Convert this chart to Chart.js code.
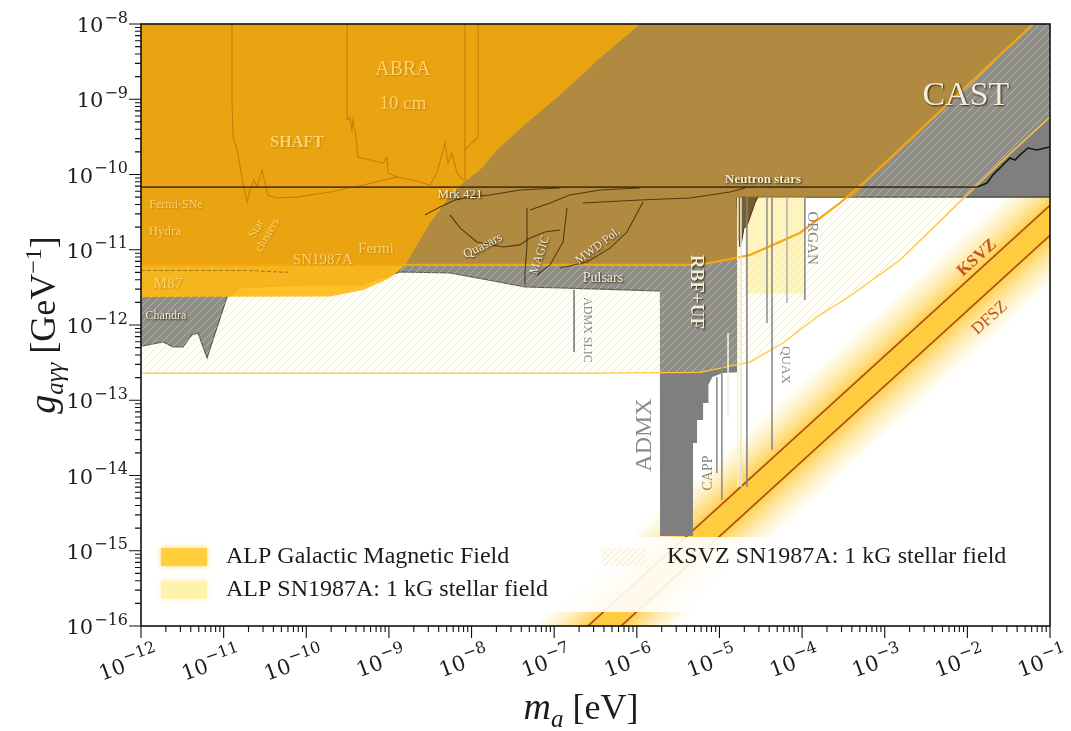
<!DOCTYPE html>
<html>
<head>
<meta charset="utf-8">
<script src="https://cdn.jsdelivr.net/npm/chart.js@4.4.1/dist/chart.umd.min.js"></script>
<style>
  html, body { margin: 0; padding: 0; background: #ffffff; }
  canvas { display: block; }
</style>
</head>
<body>
<canvas id="c" width="1071" height="731"></canvas>
<script>
// Axion-photon coupling g_aγγ [GeV^-1] versus axion mass m_a [eV].

// ---------- tick exponents ----------
const xTickExponents = [-12, -11, -10, -9, -8, -7, -6, -5, -4, -3, -2, -1];
const yTickExponents = [-16, -15, -14, -13, -12, -11, -10, -9, -8];

// ---------- grey: haloscope / helioscope / astrophysical limits (lower edge) ----------
const limitsMass = [1e-12, 1.06e-12, 1.85e-12, 2.44e-12, 3.22e-12, 4.14e-12, 4.9e-12, 6.3e-12, 1.1e-11, 1.58e-11,
  8.4e-11, 4.47e-10, 1.36e-9, 5.48e-9, 2.21e-8, 4.43e-8, 1.17e-7, 3.58e-7, 1.66e-6, 1.9e-6,
  1.91e-6, 4.78e-6, 4.79e-6, 5.35e-6, 5.36e-6, 6.33e-6, 6.34e-6, 7.34e-6, 7.35e-6, 8.2e-6,
  1.09e-5, 1.67e-5, 1.68e-5, 0.1];
const limitsG = [5.3e-13, 5.26e-13, 5.94e-13, 5.1e-13, 5.1e-13, 7.36e-13, 7.83e-13, 3.64e-13, 2.35e-12, 3.1e-12,
  3.4e-12, 3.4e-12, 5.06e-12, 4.9e-12, 3.7e-12, 3.2e-12, 3.1e-12, 3.0e-12, 2.83e-12, 2.83e-12,
  1.57e-15, 1.57e-15, 2.7e-14, 2.7e-14, 5.47e-14, 5.47e-14, 9.2e-14, 9.2e-14, 1.6e-13, 2.04e-13,
  2.3e-13, 2.35e-13, 5e-11, 5e-11];

// ---------- ALP SN1987A 1 kG stellar field (lower edge of the hatched region) ----------
const snMass = [1e-12, 3.58e-7, 5.8e-6, 2.34e-5, 5.87e-5, 1.51e-4, 3.8e-4, 1.53e-3, 6.15e-3, 2.48e-2, 0.1];
const snG    = [2.3e-13, 2.3e-13, 2.35e-13, 3.22e-13, 5.77e-13, 1.28e-12, 2.43e-12, 7.3e-12, 3.2e-11, 1.42e-10, 5.8e-10];

// ---------- ALP galactic magnetic field curve ----------
const gmfMass = [1e-12, 5.8e-6, 2.34e-5, 9.4e-5, 2.87e-4, 6.1e-4, 1.53e-3, 6.15e-3, 2.48e-2, 0.1];
const gmfG    = [6.3e-12, 6.3e-12, 8.5e-12, 1.67e-11, 4.18e-11, 8.45e-11, 2.18e-10, 9.2e-10, 3.87e-9, 1.6e-8];

// ---------- tinted part of the limits lying above that curve ----------
const tintMass = [1e-12, 5.8e-6, 1.67e-5, 1.68e-5, 4.49e-4, 6.1e-4, 1.53e-3, 6.15e-3, 2.48e-2, 0.1];
const tintG    = [6.3e-12, 6.3e-12, 7.3e-12, 5e-11, 5e-11, 8.45e-11, 2.18e-10, 9.2e-10, 3.87e-9, 1.6e-8];

// ---------- low-mass ALP region (amber) ----------
const amberMass = [1e-12, 1.94e-10, 4.86e-10, 1.03e-9, 1.57e-9, 2.38e-9, 3.14e-9, 5.05e-9, 7.87e-9, 1.26e-8,
  2.03e-8, 5.1e-8, 1.17e-7, 3.58e-7, 1.09e-6, 1.42e-6];
const amberG = [2.35e-12, 2.4e-12, 2.92e-12, 4.2e-12, 6.27e-12, 1.35e-11, 2.26e-11, 4.58e-11, 7.7e-11, 1.15e-10,
  2.12e-10, 5.3e-10, 1.14e-9, 3.53e-9, 1e-8, 1.36e-8];

// ---------- pale haloscope strip ----------
const stripMass = [2.04e-5, 1.11e-4];
const stripTop = [5e-11, 5e-11];
const stripBottom = 2.6e-12;

// ---------- QCD axion lines ----------
const ksvzMass = [1e-8, 0.1];
const ksvzG    = [3.9e-18, 3.9e-11];
const dfszMass = [1e-8, 0.1];
const dfszG    = [1.55e-18, 1.55e-11];

// ---------- CAST ----------
const castMass = [1e-12, 1.31e-2, 1.73e-2, 2.04e-2, 3.28e-2, 3.77e-2, 4.34e-2, 5.41e-2, 6.95e-2, 8.69e-2, 0.1];
const castG    = [6.8e-11, 6.8e-11, 7.7e-11, 9.9e-11, 1.66e-10, 1.56e-10, 1.82e-10, 2.25e-10, 2.12e-10, 2.25e-10, 2.32e-10];

// ---------- neutron star spikes ----------
const nsMass = [1.63e-5, 1.67e-5, 1.77e-5, 1.87e-5, 1.98e-5, 2.15e-5, 2.28e-5, 2.47e-5, 2.69e-5, 2.92e-5];
const nsG    = [5e-11, 1.72e-11, 1.09e-11, 1.35e-11, 1.95e-11, 2.07e-11, 2.49e-11, 3.18e-11, 4.18e-11, 5e-11];

// ---------- SHAFT / ABRA outlines ----------
const shaftMass = [1.26e-11, 1.26e-11, 1.30e-11, 1.49e-11, 1.58e-11, 1.71e-11, 1.92e-11, 2.08e-11, 2.33e-11, 2.53e-11,
  2.91e-11, 3.17e-11, 3.44e-11, 4.42e-11, 7.73e-11, 1.94e-10, 4.86e-10, 1.25e-9];
const shaftG = [1e-8, 9.8e-10, 3.15e-10, 1.93e-10, 1.26e-10, 7.7e-11, 4.3e-11, 6.2e-11, 8.5e-11, 6.8e-11,
  1.15e-10, 7.7e-11, 5.3e-11, 4.9e-11, 5.0e-11, 5.85e-11, 7.25e-11, 9.3e-11];
const abraMass = [3.11e-10, 3.11e-10, 3.38e-10, 3.57e-10, 3.67e-10, 4.0e-10, 4.23e-10, 5.9e-10, 8.5e-10, 9.5e-10,
  9.75e-10, 1.25e-9, 1.96e-9, 2.59e-9, 3.14e-9, 3.82e-9, 4.77e-9, 5.19e-9, 5.8e-9, 6.67e-9,
  7.88e-9, 8.33e-9, 8.33e-9];
const abraG = [1e-8, 5.3e-10, 5.8e-10, 3.9e-10, 5.3e-10, 3.15e-10, 1.71e-10, 1.56e-10, 1.42e-10, 1.71e-10,
  1.05e-10, 9.3e-11, 8.45e-11, 7.7e-11, 7.25e-11, 1.05e-10, 2.62e-10, 1.42e-10, 1.93e-10, 1.05e-10,
  8.45e-11, 8.45e-11, 1e-8];
const abraOuterMass = [1.2e-8, 1.2e-8, 8.33e-9];
const abraOuterG    = [1e-8, 3.15e-10, 2.12e-10];

// ---------- astrophysical outlines ----------
const fermiSNeMass = [1e-12, 4.86e-10, 1.25e-9];
const fermiSNeG    = [3.93e-11, 3.93e-11, 6.22e-11];
const hydraMass = [1e-12, 2.78e-10, 4.86e-10, 1.25e-9];
const hydraG    = [2.72e-11, 2.72e-11, 3.08e-11, 4.87e-11];
const m87Mass = [1e-12, 2.0e-11, 6.0e-11];
const m87G    = [5.3e-12, 5.3e-12, 5.0e-12];
const mrk421Mass = [2.73e-9, 4.15e-9, 6.3e-9, 9.58e-9, 1.67e-8, 3.86e-8, 1.18e-7];
const mrk421G    = [2.9e-11, 3.7e-11, 4.58e-11, 5.0e-11, 5.34e-11, 6.22e-11, 6.62e-11];
const upperMass = [5.1e-8, 8.9e-8, 1.55e-7, 3.58e-7, 1.09e-6];
const upperG    = [3.38e-11, 4.18e-11, 5.34e-11, 6.22e-11, 6.62e-11];
const shelfMass = [2.23e-7, 1.09e-6, 4.4e-6, 1.34e-5, 2.04e-5];
const shelfG    = [4.18e-11, 4.58e-11, 4.87e-11, 5.85e-11, 6.62e-11];
const quasarMass = [5.48e-9, 7.25e-9, 1.16e-8, 2.4e-8, 3.86e-8, 5.1e-8, 7.74e-8, 1.18e-7];
const quasarG    = [2.9e-11, 1.95e-11, 1.27e-11, 1.09e-11, 1.16e-11, 1.43e-11, 1.72e-11, 1.83e-11];
const magicLeftMass = [4.69e-8, 4.69e-8, 4.43e-8, 4.43e-8];
const magicLeftG    = [3.59e-11, 1.16e-11, 5.06e-12, 3.4e-12];
const magicRightMass = [1.43e-7, 1.28e-7, 8.9e-8, 6.19e-8];
const magicRightG    = [3.59e-11, 1.27e-11, 6.27e-12, 4.62e-12];
const mwdMass = [1.19e-6, 7.6e-7, 4.73e-7, 2.49e-7, 1.18e-7];
const mwdG    = [4.31e-11, 1.72e-11, 1.05e-11, 6.87e-12, 5.72e-12];

// ---------- narrow haloscope exclusions: [mass, g top, g bottom] ----------
const haloscopeLines = [
  [1.74e-7, 2.92e-12, 4.37e-13],
  [9.3e-6, 2.04e-13, 1.08e-14],
  [1.07e-5, 3.76e-13, 4.72e-15],
  [1.27e-5, 7.83e-13, 5.99e-14],
  [1.67e-5, 5e-11, 7.03e-15],
  [1.82e-5, 5e-11, 7.03e-15],
  [2.15e-5, 5e-11, 7.03e-15],
  [3.76e-5, 5e-11, 1.06e-12],
  [4.33e-5, 5e-11, 2.18e-14],
  [6.56e-5, 5e-11, 1.96e-12],
  [1.08e-4, 5e-11, 2.15e-12]
];
const haloscopeColors = ['#7a7a7a', '#8e8e8e', '#8e8e8e', '#f4efe0', '#f7f1dc', '#ece4c8', '#858585',
  '#959595', '#8a8a8a', '#b4b4b4', '#8a8a8a'];

// ---------- text annotations (anchor in data units) ----------
const notes = [
  { t: ['CAST'], m: 9.6e-3, g: 1.1e-9, size: 34, kind: 'cream', rot: 0 },
  { t: ['Neutron stars'], m: 3.37e-5, g: 8.45e-11, size: 13, kind: 'cream', rot: 0, bold: true },
  { t: ['RBF+UF'], m: 5.2e-6, g: 2.75e-12, size: 19, kind: 'cream', rot: 90, bold: true },
  { t: ['Pulsars'], m: 3.89e-7, g: 4.21e-12, size: 14, kind: 'cream', rot: 0 },
  { t: ['MWD Pol.'], m: 3.39e-7, g: 1.12e-11, size: 12, kind: 'cream', rot: -37 },
  { t: ['MAGIC'], m: 6.73e-8, g: 8.51e-12, size: 12, kind: 'cream', rot: -72 },
  { t: ['Quasars'], m: 1.37e-8, g: 1.12e-11, size: 13, kind: 'cream', rot: -27 },
  { t: ['Mrk 421'], m: 7.24e-9, g: 5.34e-11, size: 13, kind: 'cream', rot: 0 },
  { t: ['Chandra'], m: 2.0e-12, g: 1.32e-12, size: 12, kind: 'cream', rot: 0 },
  { t: ['M87'], m: 2.12e-12, g: 3.51e-12, size: 15, kind: 'amber', rot: 0 },
  { t: ['SN1987A'], m: 1.59e-10, g: 7.31e-12, size: 15, kind: 'amber', rot: 0 },
  { t: ['Fermi'], m: 6.98e-10, g: 1.02e-11, size: 15, kind: 'amber', rot: 0 },
  { t: ['Hydra'], m: 1.95e-12, g: 1.77e-11, size: 13, kind: 'amber', rot: 0 },
  { t: ['Fermi-SNe'], m: 2.65e-12, g: 3.93e-11, size: 12, kind: 'amber', rot: 0 },
  { t: ['Star', 'clusters'], m: 2.91e-11, g: 1.72e-11, size: 12, kind: 'amber', rot: -60 },
  { t: ['SHAFT'], m: 7.73e-11, g: 2.62e-10, size: 16, kind: 'amber', rot: 0, bold: true },
  { t: ['ABRA'], m: 1.48e-9, g: 2.45e-9, size: 20, kind: 'amber', rot: 0 },
  { t: ['10 cm'], m: 1.48e-9, g: 8.65e-10, size: 19, kind: 'amber', rot: 0 },
  { t: ['ADMX SLIC'], m: 2.49e-7, g: 8.58e-13, size: 12, kind: 'grey', rot: 90 },
  { t: ['ADMX'], m: 1.26e-6, g: 3.45e-14, size: 24, kind: 'grey', rot: -90 },
  { t: ['CAPP'], m: 7.26e-6, g: 1.08e-14, size: 14, kind: 'grey', rot: -90 },
  { t: ['QUAX'], m: 6.2e-5, g: 2.94e-13, size: 13, kind: 'grey', rot: 90 },
  { t: ['ORGAN'], m: 1.32e-4, g: 1.43e-11, size: 15, kind: 'grey', rot: 90 },
  { t: ['KSVZ'], m: 1.31e-2, g: 7.77e-12, size: 17, kind: 'rust', rot: -42, bold: true },
  { t: ['DFSZ'], m: 1.87e-2, g: 1.24e-12, size: 17, kind: 'rust', rot: -42 }
];

const legendItems = [
  { label: 'ALP Galactic Magnetic Field', swatch: 'gold' },
  { label: 'ALP SN1987A: 1 kG stellar field', swatch: 'pale' },
  { label: 'KSVZ SN1987A: 1 kG stellar field', swatch: 'hatch' }
];

// ---------- drawing helpers ----------
const SERIF = "'Liberation Serif', 'DejaVu Serif', serif";
const TICKFONT = "'DejaVu Serif', serif";
const canvas = document.getElementById('c');
const ctx0 = canvas.getContext('2d');

function hatch(bg, line, step) {
  const p = document.createElement('canvas');
  p.width = step; p.height = step;
  const g = p.getContext('2d');
  g.fillStyle = bg; g.fillRect(0, 0, step, step);
  g.strokeStyle = line; g.lineWidth = 1;
  g.beginPath();
  g.moveTo(0, step); g.lineTo(step, 0);
  g.moveTo(-1, 1); g.lineTo(1, -1);
  g.moveTo(step - 1, step + 1); g.lineTo(step + 1, step - 1);
  g.stroke();
  return ctx0.createPattern(p, 'repeat');
}
const snHatch = hatch('rgba(255,246,190,0.12)', 'rgba(255,214,80,0.52)', 8);
const legendHatch = hatch('rgba(255,250,215,0.3)', 'rgba(255,222,110,0.55)', 6);

function pts(xs, ys) { return xs.map((x, i) => ({ x: x, y: ys[i] })); }
function series(label, xs, ys, extra) {
  return Object.assign({
    label: label, data: pts(xs, ys), pointRadius: 0, pointHoverRadius: 0, pointHitRadius: 0,
    borderWidth: 0, borderColor: 'rgba(0,0,0,0)', backgroundColor: 'rgba(0,0,0,0)',
    fill: false, tension: 0
  }, extra || {});
}

const datasets = [];
function add(d) { datasets.push(d); return datasets.length - 1; }

// QCD band with a soft glow: nested fills between widened copies of the KSVZ / DFSZ lines
const glowLayers = [[4.6, 0.06], [3.7, 0.08], [3.0, 0.1], [2.4, 0.12], [1.95, 0.15],
  [1.6, 0.2], [1.32, 0.25], [1.12, 0.3], [1.0, 0.35]];
glowLayers.forEach(([w, a], k) => {
  const lo = add(series('band-lo-' + k, dfszMass, dfszG.map(v => v / w)));
  add(series('band-hi-' + k, ksvzMass, ksvzG.map(v => v * w), {
    fill: lo, backgroundColor: 'rgba(255,196,30,' + a + ')'
  }));
});
add(series('KSVZ', ksvzMass, ksvzG, { borderColor: '#ad4d17', borderWidth: 1.7 }));
add(series('DFSZ', dfszMass, dfszG, { borderColor: '#ad4d17', borderWidth: 1.7 }));

// grey limits (filled to the top), with the astrophysical part of the edge outlined
add(series('limits', limitsMass, limitsG, { fill: 'end', backgroundColor: '#7f7f7f' }));
const edgeStyle = { borderColor: 'rgba(35,30,20,0.75)', borderWidth: 1.1 };
add(series('limits edge (astro)', limitsMass.slice(0, 20), limitsG.slice(0, 20), edgeStyle));
add(series('limits edge (CAST)', limitsMass.slice(32), limitsG.slice(32), edgeStyle));

// SN1987A hatched band (filled up to the magnetic-field curve, set below)
const snDataset = series('ALP SN1987A', snMass, snG, {
  backgroundColor: snHatch, borderColor: '#ffc834', borderWidth: 1.3
});
add(snDataset);

// pale strip
add(series('strip', stripMass, stripTop, {
  fill: { value: stripBottom }, backgroundColor: 'rgba(255,238,150,0.62)'
}));

// amber low-mass region
add(series('amber', amberMass, amberG, {
  fill: 'end', backgroundColor: 'rgba(255,185,20,0.9)'
}));

// tint over the limits above the magnetic-field curve
add(series('tint', tintMass, tintG, {
  fill: 'end', backgroundColor: 'rgba(228,150,4,0.5)'
}));

// magnetic-field curve
const gmfAt = add(series('GMF', gmfMass, gmfG, { borderColor: '#f6a80a', borderWidth: 2.2 }));
snDataset.fill = gmfAt;

// neutron star spikes
add(series('neutron stars', nsMass, nsG, {
  fill: { value: 5e-11 }, backgroundColor: 'rgba(95,66,18,0.85)', borderColor: 'rgba(60,40,5,0.9)', borderWidth: 1
}));

// narrow haloscope exclusions
haloscopeLines.forEach((h, i) => {
  add(series('halo-' + i, [h[0], h[0]], [h[1], h[2]], { borderColor: haloscopeColors[i], borderWidth: 1.6 }));
});

// outlines
const faint = { borderColor: 'rgba(170,105,0,0.6)', borderWidth: 1.1 };
const dark = { borderColor: 'rgba(55,38,5,0.8)', borderWidth: 1.1 };
add(series('SHAFT', shaftMass, shaftG, faint));
add(series('ABRA', abraMass, abraG, faint));
add(series('ABRA outer', abraOuterMass, abraOuterG, faint));
add(series('Fermi-SNe', fermiSNeMass, fermiSNeG, { borderColor: 'rgba(230,160,30,0.6)', borderWidth: 1 }));
add(series('Hydra', hydraMass, hydraG, { borderColor: 'rgba(230,160,30,0.6)', borderWidth: 1 }));
add(series('M87', m87Mass, m87G, { borderColor: 'rgba(120,70,0,0.55)', borderWidth: 1.1, borderDash: [4, 2] }));
add(series('Mrk 421', mrk421Mass, mrk421G, dark));
add(series('upper', upperMass, upperG, dark));
add(series('shelf', shelfMass, shelfG, dark));
add(series('Quasars', quasarMass, quasarG, dark));
add(series('MAGIC L', magicLeftMass, magicLeftG, dark));
add(series('MAGIC R', magicRightMass, magicRightG, dark));
add(series('MWD', mwdMass, mwdG, dark));
add(series('CAST', castMass, castG, {
  borderWidth: 1.6,
  segment: { borderColor: c => c.p0.parsed.x < 1e-5 ? 'rgba(60,40,5,0.85)' : 'rgba(15,12,5,0.9)' }
}));

// draw in array order: first entry at the bottom
datasets.forEach((d, i) => { d.order = datasets.length - i; });

// ---------- plugin: legend box, annotations, frame, ticks, axis titles ----------
function drawSup(ctx, x, y, base, exp, bigSize, smallSize, align, family) {
  ctx.font = bigSize + 'px ' + family;
  const wb = ctx.measureText(base).width;
  ctx.font = smallSize + 'px ' + family;
  const we = ctx.measureText(exp).width;
  const x0 = align === 'right' ? x - wb - we - 1 : x;
  ctx.font = bigSize + 'px ' + family;
  ctx.fillText(base, x0, y);
  ctx.font = smallSize + 'px ' + family;
  ctx.fillText(exp, x0 + wb + 1, y - bigSize * 0.45);
}

const noteStyles = {
  cream: { fill: '#f4ecd4', shadow: 'rgba(30,20,0,0.9)', blur: 2 },
  amber: { fill: 'rgba(255,214,112,0.95)', shadow: 'rgba(150,90,0,0.5)', blur: 1.5 },
  grey:  { fill: '#8a8a8a', shadow: null, blur: 0 },
  rust:  { fill: '#c4561c', shadow: null, blur: 0 }
};

const decor = {
  id: 'decor',
  afterDatasetsDraw(chart) {
    const { ctx, chartArea: a, scales: { x, y } } = chart;
    ctx.save();
    // annotations
    notes.forEach(n => {
      const st = noteStyles[n.kind];
      ctx.save();
      ctx.translate(x.getPixelForValue(n.m), y.getPixelForValue(n.g));
      ctx.rotate(n.rot * Math.PI / 180);
      ctx.font = (n.bold ? 'bold ' : '') + n.size + 'px ' + SERIF;
      ctx.textAlign = 'center';
      ctx.textBaseline = 'middle';
      if (st.shadow) {
        ctx.shadowColor = st.shadow; ctx.shadowBlur = st.blur;
        ctx.shadowOffsetX = 1; ctx.shadowOffsetY = 1;
      }
      ctx.fillStyle = st.fill;
      const lh = n.size * 1.05;
      n.t.forEach((line, i) => ctx.fillText(line, 0, (i - (n.t.length - 1) / 2) * lh));
      ctx.restore();
    });

    // legend panel
    const top = a.bottom - 89, h = 75;
    ctx.fillStyle = 'rgba(255,255,255,0.9)';
    ctx.fillRect(a.left + 1, top, a.right - a.left - 2, h);
    const rows = [
      { sx: a.left + 20, sy: top + 11, tx: a.left + 85, ty: top + 20 },
      { sx: a.left + 20, sy: top + 44, tx: a.left + 85, ty: top + 53 },
      { sx: a.left + 460, sy: top + 11, tx: a.left + 526, ty: top + 20 }
    ];
    legendItems.forEach((it, i) => {
      const r = rows[i];
      ctx.save();
      if (it.swatch === 'gold') {
        ctx.shadowColor = 'rgba(255,200,40,0.9)'; ctx.shadowBlur = 5;
        ctx.fillStyle = 'rgba(255,205,55,0.9)';
      } else if (it.swatch === 'pale') {
        ctx.shadowColor = 'rgba(255,238,150,0.9)'; ctx.shadowBlur = 5;
        ctx.fillStyle = 'rgba(255,242,170,0.85)';
      } else {
        ctx.fillStyle = legendHatch;
      }
      ctx.fillRect(r.sx, r.sy, 46, 18);
      ctx.restore();
      ctx.fillStyle = '#1c1c1c';
      ctx.font = '24px ' + SERIF;
      ctx.textAlign = 'left';
      ctx.textBaseline = 'middle';
      ctx.fillText(it.label, r.tx, r.ty);
    });
    ctx.restore();
  },
  afterDraw(chart) {
    const { ctx, chartArea: a, scales: { x, y } } = chart;
    ctx.save();
    ctx.strokeStyle = '#111';
    ctx.lineWidth = 1.6;
    ctx.strokeRect(a.left, a.top, a.right - a.left, a.bottom - a.top);

    // tick marks
    ctx.lineWidth = 1.1;
    ctx.beginPath();
    xTickExponents.forEach(e => {
      for (let k = 1; k <= 9; k++) {
        const v = k * Math.pow(10, e);
        if (v > x.max * 1.0001) break;
        const px = x.getPixelForValue(v);
        ctx.moveTo(px, a.bottom); ctx.lineTo(px, a.bottom + (k === 1 ? 12 : 6));
      }
    });
    yTickExponents.forEach(e => {
      for (let k = 1; k <= 9; k++) {
        const v = k * Math.pow(10, e);
        if (v > y.max * 1.0001) break;
        const py = y.getPixelForValue(v);
        ctx.moveTo(a.left, py); ctx.lineTo(a.left - (k === 1 ? 12 : 6), py);
      }
    });
    ctx.stroke();

    // tick labels
    ctx.fillStyle = '#1c1c1c';
    ctx.textBaseline = 'alphabetic';
    ctx.textAlign = 'left';
    yTickExponents.forEach(e => {
      const py = y.getPixelForValue(Math.pow(10, e));
      drawSup(ctx, a.left - 13, py + 8, '10', '\u2212' + Math.abs(e), 21, 16, 'right', TICKFONT);
    });
    xTickExponents.forEach(e => {
      const px = x.getPixelForValue(Math.pow(10, e));
      ctx.save();
      ctx.translate(px + 12, a.bottom + 15);
      ctx.rotate(-20 * Math.PI / 180);
      drawSup(ctx, 0, 20, '10', '\u2212' + Math.abs(e), 21, 16, 'right', TICKFONT);
      ctx.restore();
    });

    // axis titles
    function title(parts, cx, cy, rot) {
      ctx.save();
      ctx.translate(cx, cy);
      ctx.rotate(rot);
      let w = 0;
      parts.forEach(p => { ctx.font = p.f; p.w = ctx.measureText(p.s).width; w += p.w; });
      let xx = -w / 2;
      parts.forEach(p => { ctx.font = p.f; ctx.fillText(p.s, xx, p.dy); xx += p.w; });
      ctx.restore();
    }
    title([
      { s: 'm', f: 'italic 38px ' + SERIF, dy: 0 },
      { s: 'a', f: 'italic 25px ' + SERIF, dy: 8 },
      { s: ' [eV]', f: '36px ' + SERIF, dy: 0 }
    ], 581, 719, 0);
    title([
      { s: 'g', f: 'italic 38px ' + SERIF, dy: 0 },
      { s: 'a\u03b3\u03b3', f: 'italic 25px ' + SERIF, dy: 8 },
      { s: ' [GeV', f: '36px ' + SERIF, dy: 0 },
      { s: '\u22121', f: '24px ' + SERIF, dy: -14 },
      { s: ']', f: '36px ' + SERIF, dy: 0 }
    ], 55, 325, -Math.PI / 2);
    ctx.restore();
  }
};

new Chart(canvas, {
  type: 'line',
  data: { datasets: datasets },
  options: {
    responsive: false,
    animation: false,
    devicePixelRatio: 1,
    events: [],
    layout: { padding: { left: 141, top: 24, right: 21, bottom: 105 } },
    scales: {
      x: { type: 'logarithmic', min: 1e-12, max: 1e-1, display: false },
      y: { type: 'logarithmic', min: 1e-16, max: 1e-8, display: false }
    },
    plugins: {
      legend: { display: false },
      tooltip: { enabled: false },
      filler: { propagate: false }
    }
  },
  plugins: [decor]
});
</script>
</body>
</html>
